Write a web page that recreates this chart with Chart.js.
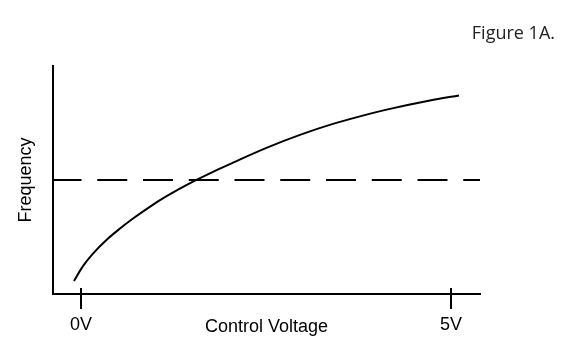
<!DOCTYPE html>
<html><head><meta charset="utf-8">
<script src="https://cdn.jsdelivr.net/npm/chart.js@4"></script>
<style>html,body{margin:0;padding:0;background:#fff}</style>
</head><body>
<canvas id="c" width="562" height="348"></canvas>
<script>
// Data
const voltage   = [-0.095, 0.027, 0.162, 0.351, 0.527, 0.703, 0.905, 1.162, 1.514, 1.811, 2.054, 2.514, 2.959, 3.405, 3.770, 4.176, 4.716, 5.108];
const frequency = [0.57, 1.22, 1.77, 2.39, 2.87, 3.31, 3.77, 4.30, 4.93, 5.40, 5.76, 6.42, 6.98, 7.46, 7.79, 8.12, 8.49, 8.71];
const thresholdLevel = 5.0;
const tickValues = [0, 5];
const tickLabels = ['0V', '5V'];
const xTitle = 'Control Voltage';
const yTitle = 'Frequency';
const figureTitle = 'Figure 1A.';
const xRange = [-0.378, 5.392];
const yRange = [0, 10];

const INK = '#000';
const AXIS_FONT = { family: 'Liberation Sans', size: 18, weight: 'normal' };

const tickNub = {
  id: 'tickNub',
  afterDatasetsDraw(chart) {
    const s = chart.scales.x, ctx = chart.ctx;
    ctx.save();
    ctx.strokeStyle = INK; ctx.lineWidth = 2;
    s.ticks.forEach(t => {
      const px = Math.round(s.getPixelForValue(t.value));
      ctx.beginPath(); ctx.moveTo(px, s.top - 6); ctx.lineTo(px, s.top); ctx.stroke();
    });
    ctx.restore();
  }
};

new Chart(document.getElementById('c'), {
  type: 'line',
  data: { datasets: [
    { data: voltage.map((v, i) => ({ x: v, y: frequency[i] })),
      borderColor: INK, borderWidth: 2, pointRadius: 0, cubicInterpolationMode: 'monotone', fill: false },
    { data: xRange.map(v => ({ x: v, y: thresholdLevel })),
      borderColor: INK, borderWidth: 2, borderDash: [30, 15.75], borderDashOffset: 1.5, pointRadius: 0, fill: false }
  ]},
  options: {
    responsive: false, animation: false, events: [],
    layout: { padding: { left: 0, right: 7, top: 0, bottom: 0 } },
    plugins: {
      legend: { display: false }, tooltip: { enabled: false },
      title: { display: true, text: figureTitle, align: 'end', color: '#222',
        font: { family: 'Open Sans', size: 18, weight: 'normal' }, padding: { top: 23.2, bottom: 21.2 } }
    },
    scales: {
      x: { type: 'linear', min: xRange[0], max: xRange[1],
        afterBuildTicks: s => { s.ticks = tickValues.map(v => ({ value: v })); },
        afterFit: s => { s.height = 54; },
        ticks: { callback: (v, i) => tickLabels[i], color: INK, font: AXIS_FONT, padding: 5, maxRotation: 0, autoSkip: false },
        grid: { display: true, drawOnChartArea: false, drawTicks: true, tickLength: 15, tickWidth: 2, tickColor: INK, color: INK, lineWidth: 2 },
        border: { display: true, color: INK, width: 2 },
        title: { display: true, text: xTitle, color: INK, font: AXIS_FONT, padding: { top: 0, bottom: 10 } } },
      y: { type: 'linear', position: 'left', min: yRange[0], max: yRange[1],
        afterFit: s => { s.width = 53; },
        ticks: { display: false }, grid: { display: false, drawTicks: false },
        border: { display: true, color: INK, width: 2 },
        title: { display: true, text: yTitle, color: INK, font: AXIS_FONT, padding: { top: 15, bottom: 0 } } },
      y2: { type: 'linear', position: 'right', display: true,
        afterFit: s => { s.width = 75; },
        ticks: { display: false }, grid: { display: false, drawTicks: false }, border: { display: false } }
    }
  },
  plugins: [tickNub]
});
</script>
</body></html>
